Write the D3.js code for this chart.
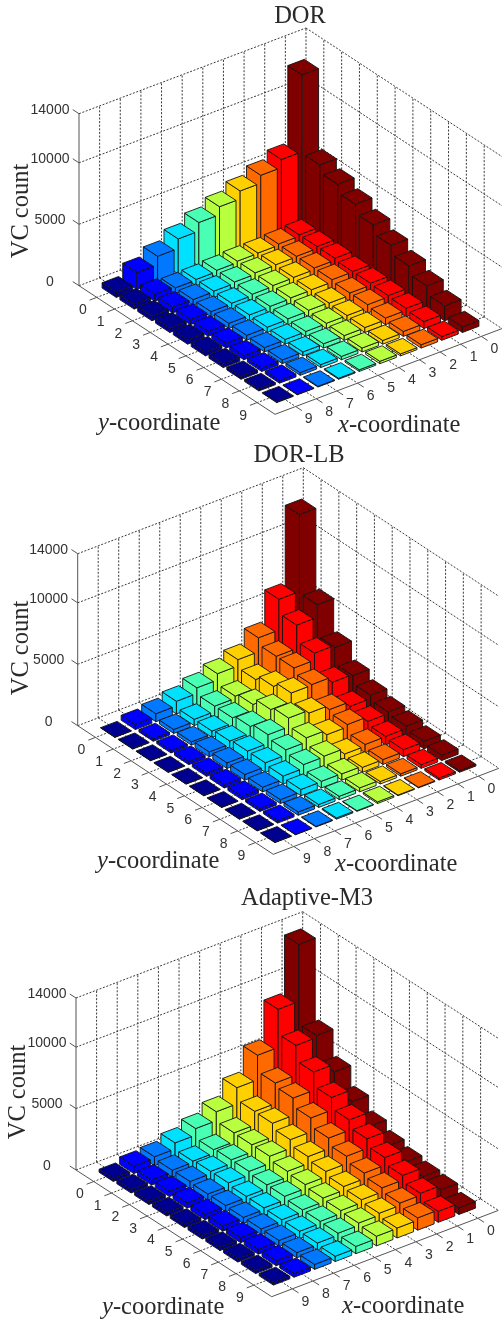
<!DOCTYPE html>
<html>
<head>
<meta charset="utf-8">
<script src="https://cdnjs.cloudflare.com/ajax/libs/d3/7.8.5/d3.min.js"></script>
<style>
  html, body { margin: 0; padding: 0; background: #fff; }
  svg { display: block; }
</style>
</head>
<body>
<div id="chart"></div>
<script>
const titles = ["DOR", "DOR-LB", "Adaptive-M3"];
const xTicks = [0, 1, 2, 3, 4, 5, 6, 7, 8, 9];
const yTicks = [0, 1, 2, 3, 4, 5, 6, 7, 8, 9];
const zTicks = [0, 5000, 10000, 14000];

// VC counts, one row per x-coordinate, one column per y-coordinate
const dorCounts = [
  [12400, 6020, 5400, 4730, 4000, 3290, 2570, 1890, 1220, 460],
  [6150, 970, 970, 970, 840, 840, 780, 700, 570, 300],
  [5500, 860, 810, 810, 810, 680, 680, 540, 400, 270],
  [4860, 760, 760, 680, 620, 490, 430, 400, 300, 160],
  [4210, 730, 730, 650, 600, 540, 430, 380, 320, 190],
  [3560, 620, 620, 580, 540, 480, 400, 350, 270, 135],
  [2860, 510, 510, 480, 480, 430, 380, 320, 240, 80],
  [2080, 460, 460, 430, 430, 400, 350, 300, 220, 60],
  [1380, 570, 480, 430, 400, 380, 320, 270, 220, 40],
  [430, 400, 380, 350, 350, 300, 300, 220, 160, 50]
];
const dorLbCounts = [
  [12400, 6020, 3510, 2160, 1510, 1100, 890, 620, 430, 135],
  [6150, 5000, 3670, 2250, 1240, 970, 700, 570, 300, 160],
  [3650, 3100, 3100, 2700, 1620, 1350, 680, 400, 190, 50],
  [2510, 1840, 2240, 2650, 1970, 1160, 540, 400, 200, 50],
  [2000, 1130, 1400, 1940, 2200, 1540, 1000, 510, 320, 130],
  [1490, 950, 950, 1200, 1480, 1200, 950, 540, 270, 50],
  [1030, 510, 510, 650, 780, 780, 650, 510, 240, 100],
  [650, 320, 270, 400, 460, 460, 380, 320, 270, 50],
  [400, 200, 200, 250, 250, 270, 270, 220, 200, 30],
  [30, 40, 30, 40, 30, 30, 30, 30, 40, 30]
];
const adaptiveCounts = [
  [13550, 7070, 5050, 3560, 2480, 1840, 1460, 1220, 1080, 540],
  [8900, 6900, 5670, 4540, 3650, 3050, 2460, 1940, 1430, 890],
  [5800, 4480, 4190, 3510, 2810, 2270, 1840, 1570, 1270, 1000],
  [3800, 2810, 2780, 2380, 1940, 1670, 1380, 1240, 1080, 810],
  [2480, 1700, 1670, 1670, 1380, 1240, 1080, 1000, 920, 780],
  [1750, 970, 1080, 1080, 920, 920, 760, 760, 730, 590],
  [1220, 675, 780, 780, 620, 620, 590, 590, 570, 430],
  [730, 570, 590, 510, 510, 480, 480, 480, 430, 400],
  [600, 410, 430, 430, 430, 430, 400, 400, 400, 300],
  [240, 270, 270, 270, 270, 270, 270, 270, 240, 200]
];
const panelCounts = [dorCounts, dorLbCounts, adaptiveCounts];

const width = 502;
const height = 1319;
const barHalf = 0.4;
const wallHeight = 172;
const tickLen = 0.35;

// pixel corners of each floor, plus where the text sits
const layouts = [
  { left: [79, 285.7], back: [306, 200], front: [275, 414.3],
    title: [300, 23], zLabel: [28, 211], yLabel: [98, 430], xLabel: [338, 431.5] },
  { left: [77.7, 725.7], back: [303.3, 639.7], front: [273.3, 854.3],
    title: [299, 462], zLabel: [27.5, 648], yLabel: [97, 867.7], xLabel: [335, 870.5] },
  { left: [76, 1170], back: [302.7, 1083.7], front: [271.7, 1296.7],
    title: [307, 905], zLabel: [25, 1092], yLabel: [102, 1313.5], xLabel: [342, 1313] }
];

const jet = ["#800000", "#ff0000", "#ff6a00", "#ffd000", "#b8ff40",
             "#48ffb4", "#00e0ff", "#0078ff", "#0000ff", "#000090"];
const color = d3.scaleOrdinal(xTicks, jet);

const xAxis = d3.scaleLinear([-1, 10], [0, 1]);
const yAxis = d3.scaleLinear([-1, 10], [0, 1]);
const zAxis = d3.scaleLinear([0, 14000], [0, wallHeight]);

const svg = d3.select("#chart").append("svg")
  .attr("width", width)
  .attr("height", height)
  .attr("font-family", "'Liberation Sans', Arial, sans-serif");

// the reference is a soft scan, so everything gets a slight blur
svg.append("defs").append("filter")
  .attr("id", "soft")
  .append("feGaussianBlur")
  .attr("stdDeviation", 0.4);

titles.forEach((title, i) => drawPanel(svg.append("g").attr("filter", "url(#soft)"),
  title, panelCounts[i], layouts[i]));

function drawPanel(g, title, counts, box) {
  const { left, back, front } = box;

  const project = (x, y, z) => [
    back[0] + xAxis(x) * (left[0] - back[0]) + yAxis(y) * (front[0] - left[0]),
    back[1] + xAxis(x) * (left[1] - back[1]) + yAxis(y) * (front[1] - left[1]) - zAxis(z)
  ];
  const line = d3.line();
  const zMax = zTicks[zTicks.length - 1];

  // dotted grid: floor and two back walls
  const gridSegs = [];
  xTicks.forEach(t => {
    gridSegs.push([project(t, -1, 0), project(t, 10, 0)]);
    gridSegs.push([project(t, -1, 0), project(t, -1, zMax)]);
  });
  yTicks.forEach(t => {
    gridSegs.push([project(-1, t, 0), project(10, t, 0)]);
    gridSegs.push([project(-1, t, 0), project(-1, t, zMax)]);
  });
  zTicks.forEach(t => {
    gridSegs.push([project(10, -1, t), project(-1, -1, t)]);
    gridSegs.push([project(-1, -1, t), project(-1, 10, t)]);
  });
  gridSegs.push([project(-1, -1, 0), project(-1, -1, zMax)]);

  g.append("g").selectAll("path")
    .data(gridSegs)
    .join("path")
    .attr("d", line)
    .attr("fill", "none")
    .attr("stroke", "#3a3a3a")
    .attr("stroke-width", 1)
    .attr("stroke-dasharray", "2 1.6");

  // axis lines and tick marks
  const axisSegs = [
    [project(10, -1, 0), project(10, -1, zMax)],
    [project(10, -1, 0), project(10, 10, 0)],
    [project(10, 10, 0), project(-1, 10, 0)]
  ];
  zTicks.forEach(t => axisSegs.push([project(10, -1, t), project(10, -1 - tickLen, t)]));
  yTicks.forEach(t => axisSegs.push([project(10, t, 0), project(10 + tickLen, t, 0)]));
  xTicks.forEach(t => axisSegs.push([project(t, 10, 0), project(t, 10 + tickLen, 0)]));

  g.append("g").selectAll("path")
    .data(axisSegs)
    .join("path")
    .attr("d", line)
    .attr("fill", "none")
    .attr("stroke", "#555")
    .attr("stroke-width", 1);

  // bars, back to front
  const cells = d3.cross(xTicks, yTicks, (x, y) => ({ x, y, z: counts[x][y] }))
    .sort((a, b) => (a.x + a.y) - (b.x + b.y));

  const barFaces = d => {
    const x0 = d.x - barHalf, x1 = d.x + barHalf;
    const y0 = d.y - barHalf, y1 = d.y + barHalf;
    return [
      [project(x1, y0, 0), project(x1, y1, 0), project(x1, y1, d.z), project(x1, y0, d.z)],
      [project(x0, y1, 0), project(x1, y1, 0), project(x1, y1, d.z), project(x0, y1, d.z)],
      [project(x0, y0, d.z), project(x1, y0, d.z), project(x1, y1, d.z), project(x0, y1, d.z)]
    ];
  };

  g.append("g").selectAll("g")
    .data(cells)
    .join("g")
    .attr("fill", d => color(d.x))
    .selectAll("path")
    .data(barFaces)
    .join("path")
    .attr("d", f => line(f) + "Z")
    .attr("stroke", "#141414")
    .attr("stroke-width", 0.9)
    .attr("stroke-linejoin", "round");

  // tick labels
  const tickText = g.append("g")
    .attr("font-size", 14)
    .attr("fill", "#333")
    .attr("text-anchor", "middle");

  tickText.selectAll("text.z")
    .data(zTicks)
    .join("text")
    .attr("class", "z")
    .attr("x", left[0] - 29)
    .attr("y", t => project(10, -1, t)[1] - 5)
    .attr("dy", "0.35em")
    .text(t => t);

  tickText.selectAll("text.y")
    .data(yTicks)
    .join("text")
    .attr("class", "y")
    .attr("x", t => project(10, t, 0)[0] - 14)
    .attr("y", t => project(10, t, 0)[1] + 12)
    .attr("dy", "0.35em")
    .text(t => t);

  tickText.selectAll("text.x")
    .data(xTicks)
    .join("text")
    .attr("class", "x")
    .attr("x", t => project(t, 10, 0)[0] + 13)
    .attr("y", t => project(t, 10, 0)[1] + 12)
    .attr("dy", "0.35em")
    .text(t => t);

  // titles
  const serif = g.append("g")
    .attr("font-family", "'Liberation Serif', 'Times New Roman', serif")
    .attr("font-size", 24.5)
    .attr("fill", "#2a2a2a");

  serif.append("text")
    .attr("x", box.title[0])
    .attr("y", box.title[1])
    .attr("text-anchor", "middle")
    .text(title);

  serif.append("text")
    .attr("transform", `translate(${box.zLabel[0]},${box.zLabel[1]}) rotate(-90)`)
    .attr("text-anchor", "middle")
    .text("VC count");

  [["y", box.yLabel], ["x", box.xLabel]].forEach(([name, pos]) => {
    const label = serif.append("text").attr("x", pos[0]).attr("y", pos[1]);
    label.append("tspan").attr("font-style", "italic").text(name);
    label.append("tspan").text("-coordinate");
  });
}
</script>
</body>
</html>
